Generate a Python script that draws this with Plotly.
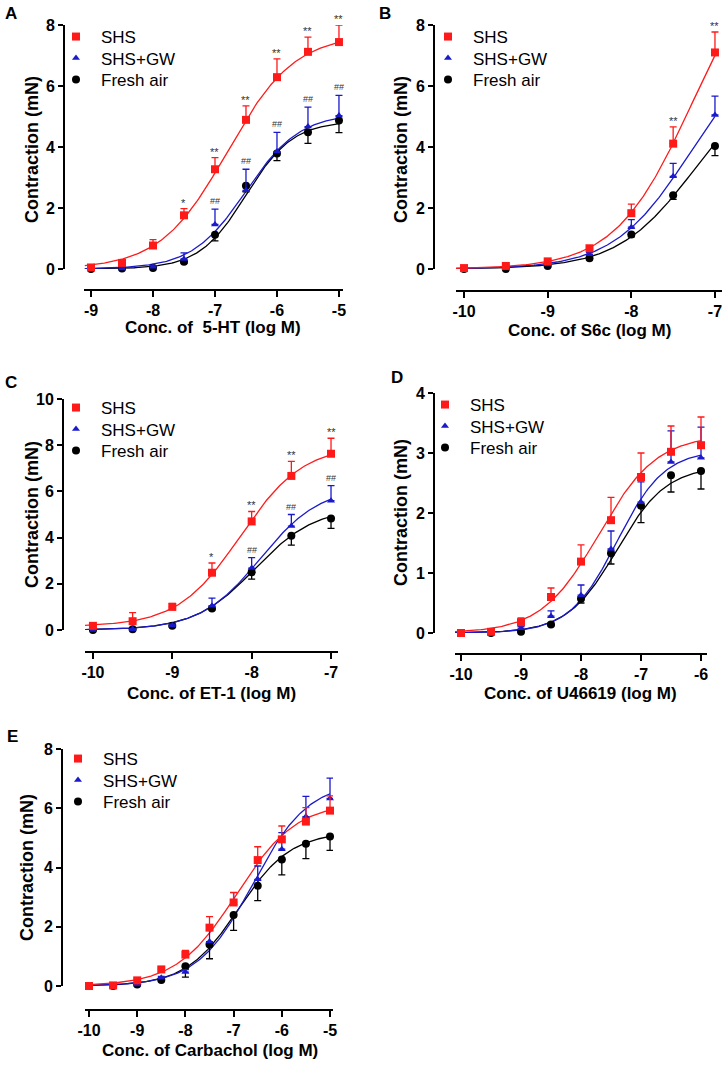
import numpy as np
import plotly.graph_objects as go

W, H = 728, 1065

# ---- data ----
series_names = ['SHS', 'SHS+GW', 'Fresh air']

# A: 5-HT
a_x = [-9, -8.5, -8, -7.5, -7, -6.5, -6, -5.5, -5]
a_shs = [0.05, 0.2, 0.77, 1.76, 3.27, 4.89, 6.29, 7.12, 7.44]
a_shs_err = [0.03, 0.05, 0.19, 0.22, 0.38, 0.46, 0.6, 0.48, 0.56]
a_gw = [0.0, 0.02, 0.07, 0.33, 1.46, 2.58, 3.85, 4.67, 5.03]
a_gw_err = [0.02, 0.03, 0.05, 0.2, 0.5, 0.69, 0.63, 0.64, 0.66]
a_air = [0.0, 0.02, 0.03, 0.24, 1.12, 2.73, 3.79, 4.48, 4.87]
a_air_err = [0.01, 0.02, 0.03, 0.05, 0.2, 0.2, 0.24, 0.36, 0.4]
a_sig_shs = ['', '', '', '*', '**', '**', '**', '**', '**']
a_sig_gw = ['', '', '', '', '##', '##', '##', '##', '##']
a_xticks = [-9, -8, -7, -6, -5]

# B: S6c
b_x = [-10, -9.5, -9, -8.5, -8, -7.5, -7]
b_shs = [0.03, 0.1, 0.25, 0.68, 1.83, 4.11, 7.1]
b_shs_err = [0.03, 0.04, 0.06, 0.08, 0.3, 0.55, 0.67]
b_gw = [0.0, 0.05, 0.15, 0.48, 1.37, 3.04, 5.05]
b_gw_err = [0.02, 0.02, 0.04, 0.06, 0.25, 0.42, 0.62]
b_air = [0.0, 0.0, 0.1, 0.35, 1.13, 2.42, 4.03]
b_air_err = [0.01, 0.01, 0.03, 0.05, 0.08, 0.14, 0.31]
b_sig_shs = ['', '', '', '', '', '**', '**']
b_sig_gw = ['', '', '', '', '', '', '']
b_xticks = [-10, -9, -8, -7]

# C: ET-1
c_x = [-10, -9.5, -9, -8.5, -8, -7.5, -7]
c_shs = [0.18, 0.38, 1.0, 2.48, 4.7, 6.67, 7.63]
c_shs_err = [0.05, 0.37, 0.15, 0.42, 0.43, 0.63, 0.67]
c_gw = [0.0, 0.03, 0.2, 1.05, 2.68, 4.5, 5.6]
c_gw_err = [0.02, 0.03, 0.05, 0.33, 0.45, 0.5, 0.65]
c_air = [0.0, 0.03, 0.18, 0.93, 2.5, 4.08, 4.83]
c_air_err = [0.01, 0.02, 0.04, 0.06, 0.3, 0.41, 0.43]
c_sig_shs = ['', '', '', '*', '**', '**', '**']
c_sig_gw = ['', '', '', '', '##', '##', '##']
c_xticks = [-10, -9, -8, -7]

# D: U46619
d_x = [-10, -9.5, -9, -8.5, -8, -7.5, -7, -6.5, -6]
d_shs = [0.0, 0.02, 0.18, 0.6, 1.19, 1.88, 2.6, 3.02, 3.13]
d_shs_err = [0.01, 0.02, 0.07, 0.15, 0.28, 0.38, 0.4, 0.43, 0.47]
d_gw = [0.0, 0.0, 0.08, 0.28, 0.63, 1.4, 2.18, 2.85, 2.92]
d_gw_err = [0.01, 0.01, 0.03, 0.09, 0.17, 0.3, 0.34, 0.52, 0.51]
d_air = [0.0, 0.0, 0.02, 0.14, 0.57, 1.33, 2.12, 2.63, 2.7]
d_air_err = [0.0, 0.0, 0.01, 0.02, 0.07, 0.18, 0.28, 0.28, 0.3]
d_sig_shs = [''] * 9
d_sig_gw = [''] * 9
d_xticks = [-10, -9, -8, -7, -6]

# E: Carbachol
e_x = [-10, -9.5, -9, -8.5, -8, -7.5, -7, -6.5, -6, -5.5, -5]
e_shs = [0.0, 0.02, 0.19, 0.56, 1.06, 1.97, 2.82, 4.25, 4.95, 5.55, 5.92]
e_shs_err = [0.01, 0.01, 0.03, 0.05, 0.14, 0.37, 0.34, 0.45, 0.45, 0.47, 0.5]
e_gw = [0.0, 0.0, 0.05, 0.28, 0.47, 1.5, 2.8, 3.6, 4.62, 5.72, 6.33]
e_gw_err = [0.01, 0.01, 0.02, 0.04, 0.08, 0.4, 0.35, 0.45, 0.56, 0.68, 0.69]
e_air = [0.0, 0.0, 0.05, 0.2, 0.67, 1.4, 2.4, 3.38, 4.27, 4.8, 5.05]
e_air_err = [0.0, 0.0, 0.01, 0.02, 0.37, 0.48, 0.52, 0.5, 0.52, 0.5, 0.47]
e_sig_shs = [''] * 11
e_sig_gw = [''] * 11
e_xticks = [-10, -9, -8, -7, -6, -5]

# fitted sigmoid parameters (bottom, top, logEC50, hill) per group: SHS, SHS+GW, Fresh air
a_fit = [(0, 7.7, -6.8, 0.8), (0, 5.1, -6.5, 1.0), (0, 4.85, -6.5, 1.15)]
b_fit = [(0, 10.8, -7.28, 0.95), (0, 7.6, -7.3, 0.95), (0, 6.5, -7.25, 0.95)]
c_fit = [(0.15, 8.0, -8.14, 1.1), (0, 6.2, -7.89, 1.15), (0, 5.3, -7.96, 1.15)]
d_fit = [(0, 3.3, -7.7, 0.9), (0, 3.05, -7.4, 1.1), (0, 2.78, -7.4, 1.05)]
e_fit = [(0, 6.2, -6.94, 0.7), (0, 6.9, -6.6, 0.75), (0, 5.2, -6.9, 0.8)]

x_titles = ['Conc. of  5-HT (log M)', 'Conc. of S6c (log M)', 'Conc. of ET-1 (log M)',
            'Conc. of U46619 (log M)', 'Conc. of Carbachol (log M)']
panel_letters = ['A', 'B', 'C', 'D', 'E']

# ---- layout geometry in pixels ----
# (x-axis left px, right px, x at left, x at right, y-axis px, y top px, y bottom px, ymax, x-axis px)
geo = [
    (84, 343, -9.113, -4.935, 64, 25, 269, 8, 290),
    (456, 722, -10.096, -6.916, 434, 25, 269, 8, 291),
    (85, 338, -10.1, -6.912, 63, 399, 630, 10, 652),
    (455, 707, -10.1, -5.9, 434, 393, 633, 4, 654),
    (85, 333, -10.083, -4.938, 62, 749, 986, 8, 1010),
]
ydtick = [2, 2, 2, 1, 2]
xtitle_pos = [(213, 328), (589, 331), (211, 693), (580, 693), (210, 1050)]
ytitle_pos = [(32, 150), (401, 150), (32, 515), (401, 513), (27, 868)]
letter_pos = [(11, 14), (385, 14), (11, 382), (397, 378), (12, 736)]
legend_pos = [(77, 37), (449, 37), (77, 408), (446, 405), (79, 759)]
legend_step = 21.5

colors = ['#FF1A1A', '#1A1ACC', '#000000']
symbols = ['square', 'triangle-up', 'circle']
msizes = [8, 7, 8]

panels = [
    (a_x, [a_shs, a_gw, a_air], [a_shs_err, a_gw_err, a_air_err], a_sig_shs, a_sig_gw, a_fit, a_xticks),
    (b_x, [b_shs, b_gw, b_air], [b_shs_err, b_gw_err, b_air_err], b_sig_shs, b_sig_gw, b_fit, b_xticks),
    (c_x, [c_shs, c_gw, c_air], [c_shs_err, c_gw_err, c_air_err], c_sig_shs, c_sig_gw, c_fit, c_xticks),
    (d_x, [d_shs, d_gw, d_air], [d_shs_err, d_gw_err, d_air_err], d_sig_shs, d_sig_gw, d_fit, d_xticks),
    (e_x, [e_shs, e_gw, e_air], [e_shs_err, e_gw_err, e_air_err], e_sig_shs, e_sig_gw, e_fit, e_xticks),
]


def hill(x, p):
    bottom, top, ec50, n = p
    return bottom + (top - bottom) / (1 + 10 ** ((ec50 - x) * n))


FONT = 'Liberation Sans, Arial, sans-serif'
fig = go.Figure()
annotations = []
layout = {}

for i, (xs, ys, errs, sig_shs, sig_gw, fits, xticks) in enumerate(panels):
    k = '' if i == 0 else str(i + 1)
    xa, ya = 'x' + k, 'y' + k
    x0, x1, xv0, xv1, ypx, yt, yb, ymax, xpos = geo[i]
    lx, ly = legend_pos[i]

    # fitted curves
    xc = np.linspace(min(xs) - 0.1, max(xs), 200)
    for j in [2, 1, 0]:
        fig.add_trace(go.Scatter(
            x=xc, y=hill(xc, fits[j]), mode='lines', xaxis=xa, yaxis=ya,
            line=dict(color=colors[j], width=1.3), showlegend=False, hoverinfo='skip',
            cliponaxis=False))
    # data points with one-sided error bars, one small legend per series
    for j in [2, 1, 0]:
        up = errs[j] if j < 2 else [0] * len(xs)
        down = [0] * len(xs) if j < 2 else errs[j]
        n = i * 3 + j + 1
        lg = 'legend' if n == 1 else 'legend%d' % n
        fig.add_trace(go.Scatter(
            x=xs, y=ys[j], mode='markers', xaxis=xa, yaxis=ya, name=series_names[j],
            legend=lg, cliponaxis=False,
            marker=dict(symbol=symbols[j], size=msizes[j], color=colors[j]),
            error_y=dict(type='data', symmetric=False, array=up, arrayminus=down,
                         color=colors[j], thickness=1.3, width=3.5)))
        row_y = ly + j * legend_step
        layout[lg] = dict(x=(lx - 26) / W, y=1 - (row_y - 18) / H, xanchor='left',
                          yanchor='top', bgcolor='rgba(0,0,0,0)', borderwidth=0,
                          itemwidth=40, font=dict(size=17, family=FONT, color='black'))
    # significance marks
    for xv, yv, e, s in zip(xs, ys[0], errs[0], sig_shs):
        if s:
            annotations.append(dict(x=xv, y=yv + e, xref=xa, yref=ya, text=s, showarrow=False,
                                    yanchor='bottom', yshift=-2,
                                    font=dict(size=11, color='#333333', family=FONT)))
    for xv, yv, e, s in zip(xs, ys[1], errs[1], sig_gw):
        if s:
            annotations.append(dict(x=xv, y=yv + e, xref=xa, yref=ya, text=s, showarrow=False,
                                    yanchor='bottom', yshift=1,
                                    font=dict(size=9, color='#333333', family=FONT)))

    layout['xaxis' + k] = dict(
        domain=[x0 / W, x1 / W], range=[xv0, xv1], anchor='free', position=1 - xpos / H,
        showline=True, linewidth=2, linecolor='black', ticks='outside', ticklen=6,
        tickwidth=2, tickcolor='black', tickmode='array', tickvals=xticks,
        ticktext=[str(t) for t in xticks], showgrid=False, zeroline=False,
        automargin=False,
        tickfont=dict(size=16, family=FONT, color='black', weight='bold'))
    layout['yaxis' + k] = dict(
        domain=[1 - yb / H, 1 - yt / H], range=[0, ymax], anchor='free', position=ypx / W,
        showline=True, linewidth=2, linecolor='black', ticks='outside', ticklen=5,
        tickwidth=2, tickcolor='black', dtick=ydtick[i], showgrid=False, zeroline=False,
        automargin=False,
        tickfont=dict(size=16, family=FONT, color='black', weight='bold'))

    tx, ty = xtitle_pos[i]
    annotations.append(dict(x=tx / W, y=1 - ty / H, xref='paper', yref='paper',
                            text=x_titles[i], showarrow=False, xanchor='center', yanchor='middle',
                            font=dict(size=17, family=FONT, color='black', weight='bold')))
    tx, ty = ytitle_pos[i]
    annotations.append(dict(x=tx / W, y=1 - ty / H, xref='paper', yref='paper',
                            text='Contraction (mN)', textangle=-90, showarrow=False,
                            xanchor='center', yanchor='middle',
                            font=dict(size=18, family=FONT, color='black', weight='bold')))
    tx, ty = letter_pos[i]
    annotations.append(dict(x=tx / W, y=1 - ty / H, xref='paper', yref='paper',
                            text=panel_letters[i], showarrow=False, xanchor='center',
                            yanchor='middle',
                            font=dict(size=17, family=FONT, color='black', weight='bold')))

fig.update_layout(
    width=W, height=H, margin=dict(l=0, r=0, t=0, b=0, autoexpand=False),
    paper_bgcolor='white', plot_bgcolor='white',
    annotations=annotations, **layout)

fig.write_html("out.html", config={'displayModeBar': False},
               post_script="document.body.style.margin='0';document.body.style.overflow='hidden';")
